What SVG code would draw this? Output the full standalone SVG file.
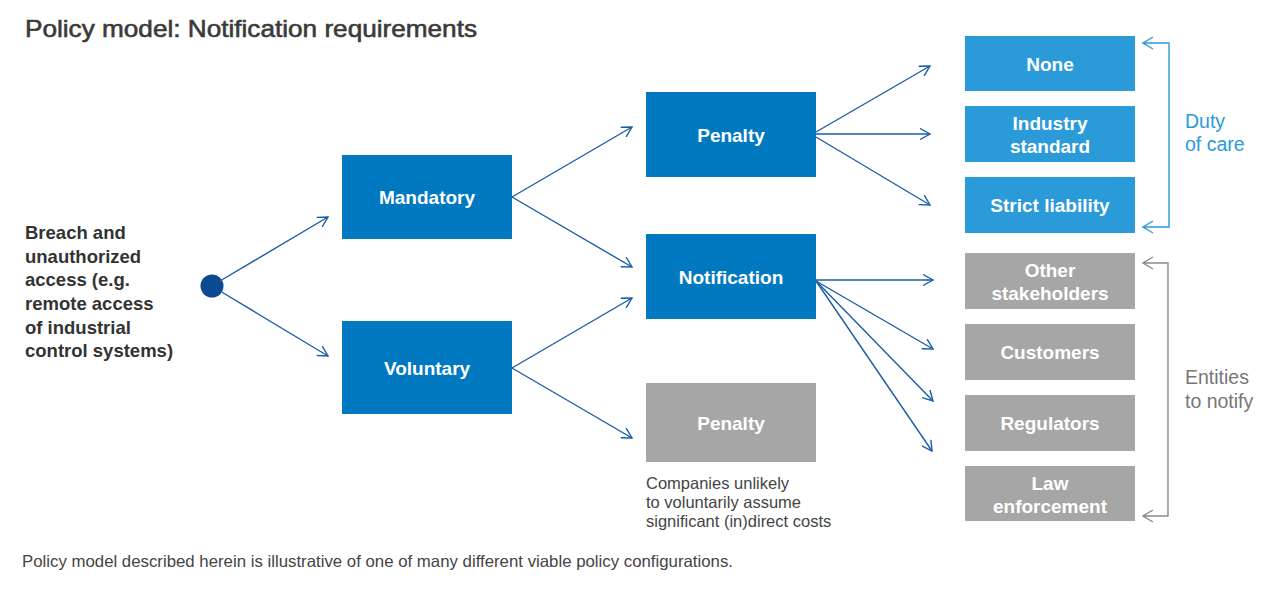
<svg xmlns="http://www.w3.org/2000/svg" width="1280" height="595" viewBox="0 0 1280 595">
<defs>
<marker id="ah" viewBox="0 0 12 12" refX="11" refY="6" markerWidth="12" markerHeight="12" markerUnits="userSpaceOnUse" orient="auto">
<path d="M1,0.5 L11,6 L1,11.5" fill="none" stroke="#1a5ea8" stroke-width="1.4"/>
</marker>
</defs>
<style>
text{font-family:"Liberation Sans",Arial,Helvetica,sans-serif}
.box{fill:#0079c1}
.lbox{fill:#2b9ad9}
.gbox{fill:#a6a6a6}
.bt{fill:#ffffff;font-size:19px;font-weight:bold;text-anchor:middle}
.con{stroke:#1a5ea8;stroke-width:1.4;fill:none;marker-end:url(#ah)}
.title{fill:#3a3a3a;font-size:24px;stroke:#3a3a3a;stroke-width:0.6}
.lt{fill:#333333;font-size:18.5px;font-weight:bold}
.note{fill:#444444;font-size:16.5px}
.br{fill:none;stroke-width:1.4}
</style>
<rect width="1280" height="595" fill="#ffffff"/>
<text class="title" x="25" y="37" textLength="452" lengthAdjust="spacingAndGlyphs">Policy model: Notification requirements</text>

<g id="breach">
<text class="lt" x="25" y="239">Breach and</text>
<text class="lt" x="25" y="263">unauthorized</text>
<text class="lt" x="25" y="286">access (e.g.</text>
<text class="lt" x="25" y="310">remote access</text>
<text class="lt" x="25" y="334">of industrial</text>
<text class="lt" x="25" y="357">control systems)</text>
<circle cx="212" cy="286" r="11.5" fill="#0b4a90"/>
</g>

<g id="connectors">
<line class="con" x1="220" y1="281" x2="328" y2="217"/>
<line class="con" x1="220" y1="291" x2="328" y2="356"/>
<line class="con" x1="512" y1="197" x2="632" y2="127"/>
<line class="con" x1="512" y1="197" x2="632" y2="267"/>
<line class="con" x1="512" y1="368" x2="632" y2="298"/>
<line class="con" x1="512" y1="368" x2="632" y2="438"/>
<line class="con" x1="816" y1="132" x2="930" y2="66"/>
<line class="con" x1="816" y1="134" x2="930" y2="134"/>
<line class="con" x1="816" y1="137" x2="930" y2="205"/>
<line class="con" x1="816" y1="280" x2="933" y2="280"/>
<line class="con" x1="816" y1="281" x2="933" y2="349"/>
<line class="con" x1="816" y1="281" x2="933" y2="401"/>
<line class="con" x1="816" y1="281" x2="932" y2="451"/>
</g>

<g id="mandatory"><rect class="box" x="342" y="155" width="170" height="84"/><text class="bt" x="427" y="204">Mandatory</text></g>
<g id="voluntary"><rect class="box" x="342" y="321" width="170" height="93"/><text class="bt" x="427" y="375">Voluntary</text></g>
<g id="penalty1"><rect class="box" x="646" y="92" width="170" height="85"/><text class="bt" x="731" y="142">Penalty</text></g>
<g id="notification"><rect class="box" x="646" y="234" width="170" height="85"/><text class="bt" x="731" y="284">Notification</text></g>
<g id="penalty2"><rect class="gbox" x="646" y="383" width="170" height="79"/><text class="bt" x="731" y="430">Penalty</text>
<text class="note" x="646" y="489">Companies unlikely</text>
<text class="note" x="646" y="508">to voluntarily assume</text>
<text class="note" x="646" y="527">significant (in)direct costs</text>
</g>

<g id="none"><rect class="lbox" x="965" y="36" width="170" height="55"/><text class="bt" x="1050" y="71">None</text></g>
<g id="industry"><rect class="lbox" x="965" y="106" width="170" height="56"/><text class="bt" x="1050" y="130">Industry</text><text class="bt" x="1050" y="153">standard</text></g>
<g id="strict"><rect class="lbox" x="965" y="177" width="170" height="56"/><text class="bt" x="1050" y="212">Strict liability</text></g>
<g id="other"><rect class="gbox" x="965" y="253" width="170" height="56"/><text class="bt" x="1050" y="277">Other</text><text class="bt" x="1050" y="300">stakeholders</text></g>
<g id="customers"><rect class="gbox" x="965" y="324" width="170" height="56"/><text class="bt" x="1050" y="359">Customers</text></g>
<g id="regulators"><rect class="gbox" x="965" y="395" width="170" height="56"/><text class="bt" x="1050" y="430">Regulators</text></g>
<g id="law"><rect class="gbox" x="965" y="466" width="170" height="55"/><text class="bt" x="1050" y="490">Law</text><text class="bt" x="1050" y="513">enforcement</text></g>

<g id="duty">
<path class="br" stroke="#2b9ad9" d="M1143,43 H1169 V227 H1143 M1153,37 L1143,43 L1153,49 M1153,221 L1143,227 L1153,233"/>
<text x="1185" y="128" fill="#2b9ad9" font-size="19.5">Duty</text>
<text x="1185" y="151" fill="#2b9ad9" font-size="19.5">of care</text>
</g>
<g id="entities">
<path class="br" stroke="#8a8a8a" d="M1143,263 H1168 V516 H1143 M1153,257 L1143,263 L1153,269 M1153,510 L1143,516 L1153,522"/>
<text x="1185" y="384" fill="#777777" font-size="19.5">Entities</text>
<text x="1185" y="408" fill="#777777" font-size="19.5">to notify</text>
</g>

<text class="note" x="22" y="567" textLength="711" lengthAdjust="spacingAndGlyphs">Policy model described herein is illustrative of one of many different viable policy configurations.</text>
</svg>
